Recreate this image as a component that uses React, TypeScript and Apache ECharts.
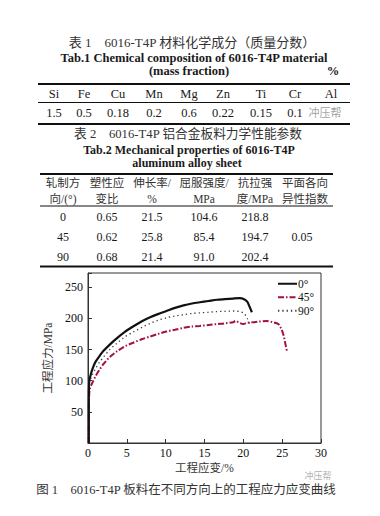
import React, { useEffect, useRef } from "react";
import * as echarts from "echarts";

// ---- Table 1 data ----
const elements = ["Si", "Fe", "Cu", "Mn", "Mg", "Zn", "Ti", "Cr", "Al"];
const massFraction = ["1.5", "0.5", "0.18", "0.2", "0.6", "0.22", "0.15", "0.1", ""];

// ---- Table 2 data ----
const headRow1 = ["轧制方", "塑性应", "伸长率/", "屈服强度/", "抗拉强", "平面各向"];
const headRow2 = ["向/(°)", "变比", "%", "MPa", "度/MPa", "异性指数"];
const directions = ["0", "45", "90"];
const rValues = ["0.65", "0.62", "0.68"];
const elongation = ["21.5", "25.8", "21.4"];
const yieldStrength = ["104.6", "85.4", "91.0"];
const tensileStrength = ["218.8", "194.7", "202.4"];
const planarAnisotropy = "0.05";

// ---- Chart data ----
const seriesNames = ["0°", "45°", "90°"];
const strain0 = [0.1, 0.1, 0.15, 0.4, 0.7, 1.0, 1.5, 2.0, 2.8, 3.7, 4.7, 5.8, 7.0, 8.0, 9.0, 10.1, 11.2, 12.3, 13.4, 14.4, 15.5, 16.6, 17.6, 18.7, 19.5, 20.1, 20.5, 20.8, 21.1];
const stress0 = [0, 60, 98, 112, 123, 131, 140, 148, 158, 168, 178, 187, 196, 202, 207, 212, 217, 221, 224, 226, 228, 230, 231, 232, 232.5, 231, 227, 219, 210];
const strain45 = [0.1, 0.1, 0.2, 0.5, 1.0, 1.5, 2.0, 2.8, 3.7, 4.7, 5.8, 7.0, 8.0, 9.0, 10.1, 11.2, 12.3, 13.4, 14.4, 15.5, 16.6, 17.6, 18.7, 19.0, 19.5, 20.0, 20.5, 21.3, 22.0, 23.0, 23.8, 24.5, 24.9, 25.2, 25.4, 25.6];
const stress45 = [0, 50, 85, 95, 108, 118, 127, 138, 147, 155, 161, 167, 171, 175, 179, 182, 185, 187, 188, 189.5, 191, 192, 194, 196, 193, 191, 193, 194, 195, 196, 194, 191, 183, 172, 160, 148];
const strain90 = [0.1, 0.1, 0.15, 0.5, 1.0, 1.5, 2.0, 2.8, 3.7, 4.7, 5.8, 7.0, 8.0, 9.0, 10.1, 11.2, 12.3, 13.4, 14.4, 15.5, 16.6, 17.6, 18.7, 19.5, 20.1, 20.5, 20.8];
const stress90 = [0, 60, 95, 108, 120, 130, 138, 150, 160, 170, 178, 186, 192, 197, 201, 204, 206, 208, 209, 210, 211, 211.5, 212, 211, 208, 200, 192];
const xTicks = [0, 5, 10, 15, 20, 25, 30];

const SERIF = "'Liberation Serif', 'Noto Sans CJK SC', serif";
const CJK = "'Liberation Serif', 'Noto Sans CJK SC', sans-serif";

function txt(x: number, y: number, text: string, opts: any = {}) {
  return {
    type: "text",
    x,
    y,
    silent: true,
    style: {
      text,
      fill: opts.fill || "#1a1a1a",
      fontSize: opts.fontSize || 12,
      fontFamily: opts.fontFamily || SERIF,
      fontWeight: opts.fontWeight || "normal",
      align: opts.align || "center",
      verticalAlign: "middle",
      opacity: opts.opacity == null ? 1 : opts.opacity,
    },
  };
}
function rule(x1: number, x2: number, y: number, w: number) {
  return {
    type: "line",
    silent: true,
    shape: { x1, y1: y, x2, y2: y },
    style: { stroke: "#111", lineWidth: w },
  };
}

export default function App() {
  const ref = useRef<HTMLDivElement>(null);
  useEffect(() => {
    document.body.style.margin = "0";
    const chart = echarts.init(ref.current!, null, { renderer: "svg" });
    const g: any[] = [];
    // Table 1
    g.push(txt(192, 42, "表 1　6016-T4P 材料化学成分（质量分数）", { fontFamily: CJK, fontSize: 13, fill: "#333" }));
    g.push(txt(194, 58, "Tab.1 Chemical composition of 6016-T4P material", { fontWeight: "bold", fontSize: 12.5 }));
    g.push(txt(189, 71, "(mass fraction)", { fontWeight: "bold", fontSize: 12.5 }));
    g.push(txt(333, 71, "%", { fontWeight: "bold", fontSize: 12.5 }));
    g.push(rule(38, 350, 84, 2));
    const t1x = [54, 84, 118, 154, 189, 223, 261, 295, 331];
    elements.forEach((e, i) => g.push(txt(t1x[i], 94, e, { fontSize: 12.5 })));
    g.push(rule(38, 350, 102.5, 1));
    massFraction.forEach((v, i) => g.push(txt(t1x[i], 113, v, { fontSize: 12.5 })));
    g.push(txt(325, 113, "冲压帮", { fontFamily: CJK, fontSize: 11, fill: "#888", opacity: 0.8 }));
    g.push(rule(38, 350, 124, 2));
    // Table 2
    g.push(txt(188, 134, "表 2　6016-T4P 铝合金板料力学性能参数", { fontFamily: CJK, fontSize: 12.7, fill: "#333" }));
    g.push(txt(189, 150, "Tab.2 Mechanical properties of 6016-T4P", { fontWeight: "bold", fontSize: 12 }));
    g.push(txt(187, 162.5, "aluminum alloy sheet", { fontWeight: "bold", fontSize: 12 }));
    g.push(rule(40, 333, 174, 2));
    const t2x = [63, 107, 152, 204, 255, 305];
    headRow1.forEach((h, i) => g.push(txt(t2x[i], 183, h, { fontFamily: CJK, fontSize: 11.5, fill: "#333" })));
    headRow2.forEach((h, i) => g.push(txt(t2x[i], 199, h, { fontFamily: CJK, fontSize: 11.5, fill: "#333" })));
    g.push(rule(40, 333, 206, 1));
    const rowY = [217, 237, 257];
    directions.forEach((d, i) => {
      g.push(txt(t2x[0], rowY[i], d, { fontSize: 12 }));
      g.push(txt(t2x[1], rowY[i], rValues[i], { fontSize: 12 }));
      g.push(txt(t2x[2], rowY[i], elongation[i], { fontSize: 12 }));
      g.push(txt(t2x[3], rowY[i], yieldStrength[i], { fontSize: 12 }));
      g.push(txt(t2x[4], rowY[i], tensileStrength[i], { fontSize: 12 }));
    });
    g.push(txt(302, rowY[1], planarAnisotropy, { fontSize: 12 }));
    g.push(rule(40, 333, 266.5, 2));
    // Caption
    g.push(txt(186, 489.5, "图 1　6016-T4P 板料在不同方向上的工程应力应变曲线", { fontFamily: CJK, fontSize: 12.5, fill: "#333" }));
    g.push(txt(318, 476, "冲压帮", { fontFamily: CJK, fontSize: 9, fill: "#999", opacity: 0.8 }));

    const pairs = (xs: number[], ys: number[]) => xs.map((x, i) => [x, ys[i]]);

    chart.setOption({
      animation: false,
      backgroundColor: "#fff",
      textStyle: { fontFamily: SERIF },
      grid: { left: 88, right: 59, top: 273, bottom: 73, show: true, borderColor: "#333", borderWidth: 1, backgroundColor: "transparent" },
      legend: {
        orient: "vertical",
        left: 277,
        top: 278,
        itemWidth: 19,
        itemHeight: 9,
        itemGap: 2,
        padding: 0,
        itemStyle: { opacity: 0 },
        textStyle: { fontFamily: SERIF, fontSize: 11.5, lineHeight: 11, color: "#111", padding: [0, 0, 0, -4] },
        data: seriesNames,
      },
      xAxis: {
        type: "value",
        min: 0,
        max: 30,
        interval: 5,
        name: "工程应变/%",
        nameLocation: "middle",
        nameGap: 19,
        nameTextStyle: { fontFamily: CJK, fontSize: 11.5, color: "#333" },
        axisLine: { lineStyle: { color: "#333", width: 1 } },
        axisTick: { inside: true, length: 4, lineStyle: { color: "#333" } },
        axisLabel: { fontFamily: SERIF, fontSize: 12, color: "#111", margin: 4, formatter: (v: number) => (xTicks.includes(v) ? String(v) : "") },
        splitLine: { show: false },
      },
      yAxis: {
        type: "value",
        min: 0,
        max: 273,
        interval: 50,
        name: "工程应力/MPa",
        nameLocation: "middle",
        nameGap: 23,
        nameRotate: 90,
        nameTextStyle: { fontFamily: CJK, fontSize: 11.5, color: "#333" },
        axisLine: { lineStyle: { color: "#333", width: 1 } },
        axisTick: { inside: true, length: 4, lineStyle: { color: "#333" } },
        axisLabel: {
          fontFamily: SERIF,
          fontSize: 12,
          color: "#111",
          margin: 5,
          showMinLabel: false,
          formatter: (v: number) => (v > 0 && v % 50 === 0 ? String(v) : ""),
        },
        splitLine: { show: false },
      },
      series: [
        {
          name: seriesNames[0],
          type: "line",
          data: pairs(strain0, stress0),
          showSymbol: false,
          symbol: "none",
          smooth: 0.3,
          lineStyle: { color: "#111", width: 2.2 },
          itemStyle: { color: "#111" },
          z: 3,
        },
        {
          name: seriesNames[1],
          type: "line",
          data: pairs(strain45, stress45),
          showSymbol: false,
          symbol: "none",
          smooth: 0.3,
          lineStyle: { color: "#a3123f", width: 2, type: [6, 2, 1.5, 2] },
          itemStyle: { color: "#a3123f" },
          z: 2,
        },
        {
          name: seriesNames[2],
          type: "line",
          data: pairs(strain90, stress90),
          showSymbol: false,
          symbol: "none",
          smooth: 0.3,
          lineStyle: { color: "#3a3a4a", width: 1.3, type: [1.3, 3] },
          itemStyle: { color: "#3a3a4a" },
          z: 1,
        },
      ],
      graphic: g,
    });
    return () => chart.dispose();
  }, []);
  return <div ref={ref} style={{ position: "fixed", left: 0, top: 0, width: 380, height: 516 }} />;
}
